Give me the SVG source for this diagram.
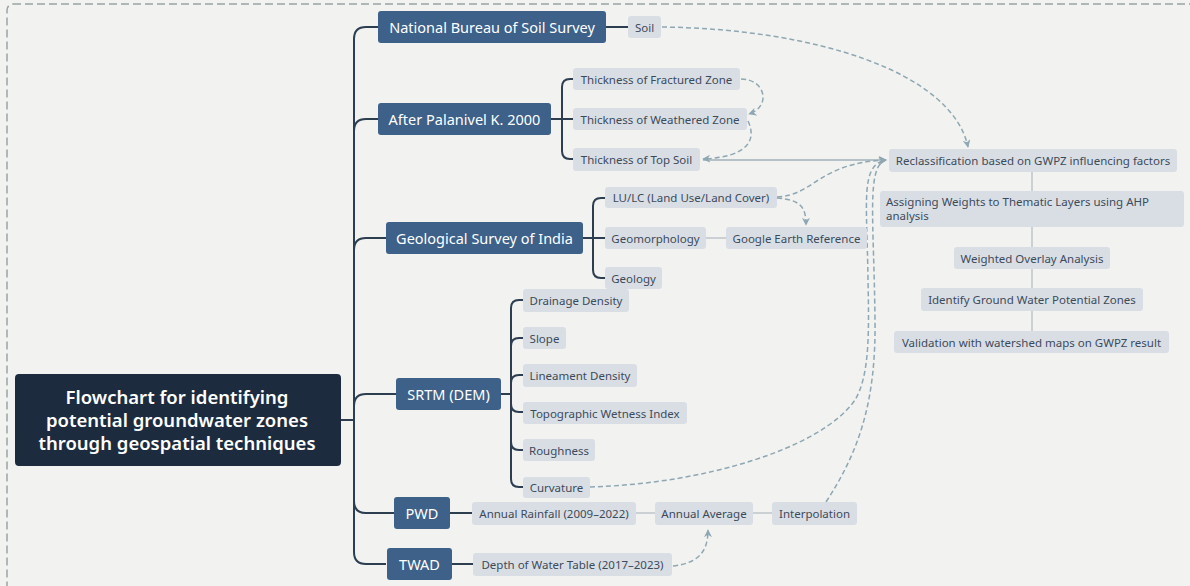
<svg xmlns="http://www.w3.org/2000/svg" width="1190" height="586" viewBox="0 0 1190 586">
<style>
.bg{fill:#f2f2f0}
.frame{fill:none;stroke:#9aa4a6;stroke-width:1.5;stroke-dasharray:8 4}
.root{fill:#1c2c3e}
.l1{fill:#3d6189}
.l2{fill:#d9dee5}
.tr{font-family:"Noto Sans","Open Sans",sans-serif;font-size:18.5px;font-weight:600;fill:#ffffff;text-anchor:middle}
.t1{font-family:"Noto Sans","Open Sans",sans-serif;font-size:14.5px;fill:#ffffff;text-anchor:middle;dominant-baseline:central}
.t2{font-family:"Noto Sans","Open Sans",sans-serif;font-size:11.5px;fill:#3c4b5a;text-anchor:middle;dominant-baseline:central}
.t2l{font-family:"Noto Sans","Open Sans",sans-serif;font-size:11.5px;fill:#3c4b5a}
.br{fill:none;stroke:#2c3e50;stroke-width:2}
.lt{fill:none;stroke:#bcc4cb;stroke-width:1.5}
.sol{fill:none;stroke:#9fb2bb;stroke-width:1.5}
.dash{fill:none;stroke:#8ea7b3;stroke-width:1.5;stroke-dasharray:5 3}
</style>
<defs>
<marker id="ah" viewBox="0 0 10 10" refX="9" refY="5" markerWidth="8" markerHeight="8" markerUnits="userSpaceOnUse" orient="auto">
<path d="M0,0 L10,5 L0,10 L3,5 Z" fill="#8ea7b3"/>
</marker>
</defs>
<rect class="bg" x="0" y="0" width="1190" height="586"/>
<rect class="frame" x="7" y="4" width="1200" height="600" rx="6"/>

<g id="connectors">
<path class="br" d="M341 420 H354"/>
<path class="br" d="M378 27 H366 Q354 27 354 39 V552 Q354 564 366 564 H386"/>
<path class="br" d="M354 131 Q354 119 366 119 H378"/>
<path class="br" d="M354 250 Q354 238 366 238 H386"/>
<path class="br" d="M354 406 Q354 394 366 394 H396"/>
<path class="br" d="M354 501 Q354 513 366 513 H394"/>
<path class="br" d="M606 27 H628"/>
<path class="br" d="M551 119 H574"/>
<path class="br" d="M574 79 H570 Q562 79 562 87 V151 Q562 159 570 159 H574"/>
<path class="br" d="M583 238 H605"/>
<path class="br" d="M605 198 H601 Q593 198 593 206 V270 Q593 278 601 278 H605"/>
<path class="br" d="M501 394 H511"/>
<path class="br" d="M523 300 H519 Q511 300 511 308 V479 Q511 487 519 487 H523"/>
<path class="br" d="M511 346 Q511 338 519 338 H523"/>
<path class="br" d="M511 383 Q511 375 519 375 H523"/>
<path class="br" d="M511 404 Q511 412 519 412 H523"/>
<path class="br" d="M511 442 Q511 450 519 450 H523"/>
<path class="br" d="M450 513 H472"/>
<path class="br" d="M452 564 H473"/>
<path class="lt" d="M706 238 H726"/>
<path class="lt" d="M636 513 H655"/>
<path class="lt" d="M753 513 H772"/>
<path class="lt" d="M1032 172 V191"/>
<path class="lt" d="M1032 227 V247"/>
<path class="lt" d="M1032 269 V288"/>
<path class="lt" d="M1032 311 V331"/>
<path class="sol" d="M703 160 H886" marker-end="url(#ah)"/>
<path class="dash" d="M662 27 C815 29, 952 72, 968 147" marker-end="url(#ah)"/>
<path class="dash" d="M741 79 C765 79, 772 106, 749 114" marker-end="url(#ah)"/>
<path class="dash" d="M748 121 C757 140, 748 157, 703 159" marker-end="url(#ah)"/>
<path class="dash" d="M777 197 C815 195, 818 163, 886 160" marker-end="url(#ah)"/>
<path class="dash" d="M777 198 C800 200, 806 206, 806 225" marker-end="url(#ah)"/>
<path class="dash" d="M590 487 C700 484, 820 450, 855 400 C870 375, 869 330, 868 280 C867 200, 860 165, 886 160" marker-end="url(#ah)"/>
<path class="dash" d="M826 502 C860 450, 876 400, 875 320 C874 220, 866 166, 886 160"/>
<path class="dash" d="M673 566 C700 563, 708 550, 708 530" marker-end="url(#ah)"/>
</g>

<g id="root">
<rect class="root" x="15" y="374" width="326" height="92" rx="4"/>
<text class="tr" x="177" y="404">Flowchart for identifying</text>
<text class="tr" x="177" y="427">potential groundwater zones</text>
<text class="tr" x="177" y="450">through geospatial techniques</text>
</g>

<g id="nbss"><rect class="l1" x="378" y="11" width="228" height="32" rx="3"/><text class="t1" x="492" y="27">National Bureau of Soil Survey</text></g>
<g id="palanivel"><rect class="l1" x="378" y="103" width="173" height="32" rx="3"/><text class="t1" x="464.5" y="119">After Palanivel K. 2000</text></g>
<g id="gsi"><rect class="l1" x="386" y="222" width="197" height="32" rx="3"/><text class="t1" x="484.5" y="238">Geological Survey of India</text></g>
<g id="srtm"><rect class="l1" x="396" y="378" width="105" height="32" rx="3"/><text class="t1" x="448.5" y="394">SRTM (DEM)</text></g>
<g id="pwd"><rect class="l1" x="394" y="497" width="56" height="32" rx="3"/><text class="t1" x="422" y="513">PWD</text></g>
<g id="twad"><rect class="l1" x="387" y="548" width="65" height="32" rx="3"/><text class="t1" x="419.5" y="564">TWAD</text></g>

<g id="soil"><rect class="l2" x="628" y="16" width="33" height="22" rx="3"/><text class="t2" x="644.5" y="27">Soil</text></g>
<g id="fractured"><rect class="l2" x="573" y="68" width="167" height="22" rx="3"/><text class="t2" x="656.5" y="79">Thickness of Fractured Zone</text></g>
<g id="weathered"><rect class="l2" x="573" y="108" width="174" height="22" rx="3"/><text class="t2" x="660" y="119">Thickness of Weathered Zone</text></g>
<g id="topsoil"><rect class="l2" x="573" y="148" width="127" height="23" rx="3"/><text class="t2" x="636.5" y="159.5">Thickness of Top Soil</text></g>
<g id="lulc"><rect class="l2" x="605" y="187" width="172" height="21" rx="3"/><text class="t2" x="691" y="197.5">LU/LC (Land Use/Land Cover)</text></g>
<g id="geomorph"><rect class="l2" x="605" y="227" width="101" height="22" rx="3"/><text class="t2" x="655.5" y="238">Geomorphology</text></g>
<g id="google"><rect class="l2" x="726" y="227" width="141" height="22" rx="3"/><text class="t2" x="796.5" y="238">Google Earth Reference</text></g>
<g id="geology"><rect class="l2" x="605" y="267" width="57" height="22" rx="3"/><text class="t2" x="633.5" y="278">Geology</text></g>
<g id="drainage"><rect class="l2" x="523" y="289" width="106" height="23" rx="3"/><text class="t2" x="576" y="300.5">Drainage Density</text></g>
<g id="slope"><rect class="l2" x="523" y="327" width="43" height="22" rx="3"/><text class="t2" x="544.5" y="338">Slope</text></g>
<g id="lineament"><rect class="l2" x="523" y="364" width="114" height="23" rx="3"/><text class="t2" x="580" y="375.5">Lineament Density</text></g>
<g id="twi"><rect class="l2" x="523" y="402" width="164" height="22" rx="3"/><text class="t2" x="605" y="413">Topographic Wetness Index</text></g>
<g id="roughness"><rect class="l2" x="523" y="439" width="72" height="22" rx="3"/><text class="t2" x="559" y="450">Roughness</text></g>
<g id="curvature"><rect class="l2" x="523" y="477" width="67" height="21" rx="3"/><text class="t2" x="556.5" y="487.5">Curvature</text></g>
<g id="rainfall"><rect class="l2" x="472" y="502" width="164" height="23" rx="3"/><text class="t2" x="554" y="513.5">Annual Rainfall (2009–2022)</text></g>
<g id="average"><rect class="l2" x="655" y="502" width="98" height="23" rx="3"/><text class="t2" x="704" y="513.5">Annual Average</text></g>
<g id="interp"><rect class="l2" x="772" y="502" width="85" height="23" rx="3"/><text class="t2" x="814.5" y="513.5">Interpolation</text></g>
<g id="depth"><rect class="l2" x="473" y="553" width="199" height="23" rx="3"/><text class="t2" x="572.5" y="564.5">Depth of Water Table (2017–2023)</text></g>

<g id="reclass"><rect class="l2" x="889" y="149" width="288" height="23" rx="3"/><text class="t2" x="1033" y="160.5">Reclassification based on GWPZ influencing factors</text></g>
<g id="weights"><rect class="l2" x="880" y="191" width="304" height="36" rx="3"/><text class="t2l" x="886" y="206">Assigning Weights to Thematic Layers using AHP</text><text class="t2l" x="886" y="220">analysis</text></g>
<g id="overlay"><rect class="l2" x="954" y="247" width="156" height="22" rx="3"/><text class="t2" x="1032" y="258">Weighted Overlay Analysis</text></g>
<g id="identify"><rect class="l2" x="921" y="288" width="222" height="23" rx="3"/><text class="t2" x="1032" y="299.5">Identify Ground Water Potential Zones</text></g>
<g id="validation"><rect class="l2" x="894" y="331" width="275" height="22" rx="3"/><text class="t2" x="1031.5" y="342">Validation with watershed maps on GWPZ result</text></g>
</svg>
